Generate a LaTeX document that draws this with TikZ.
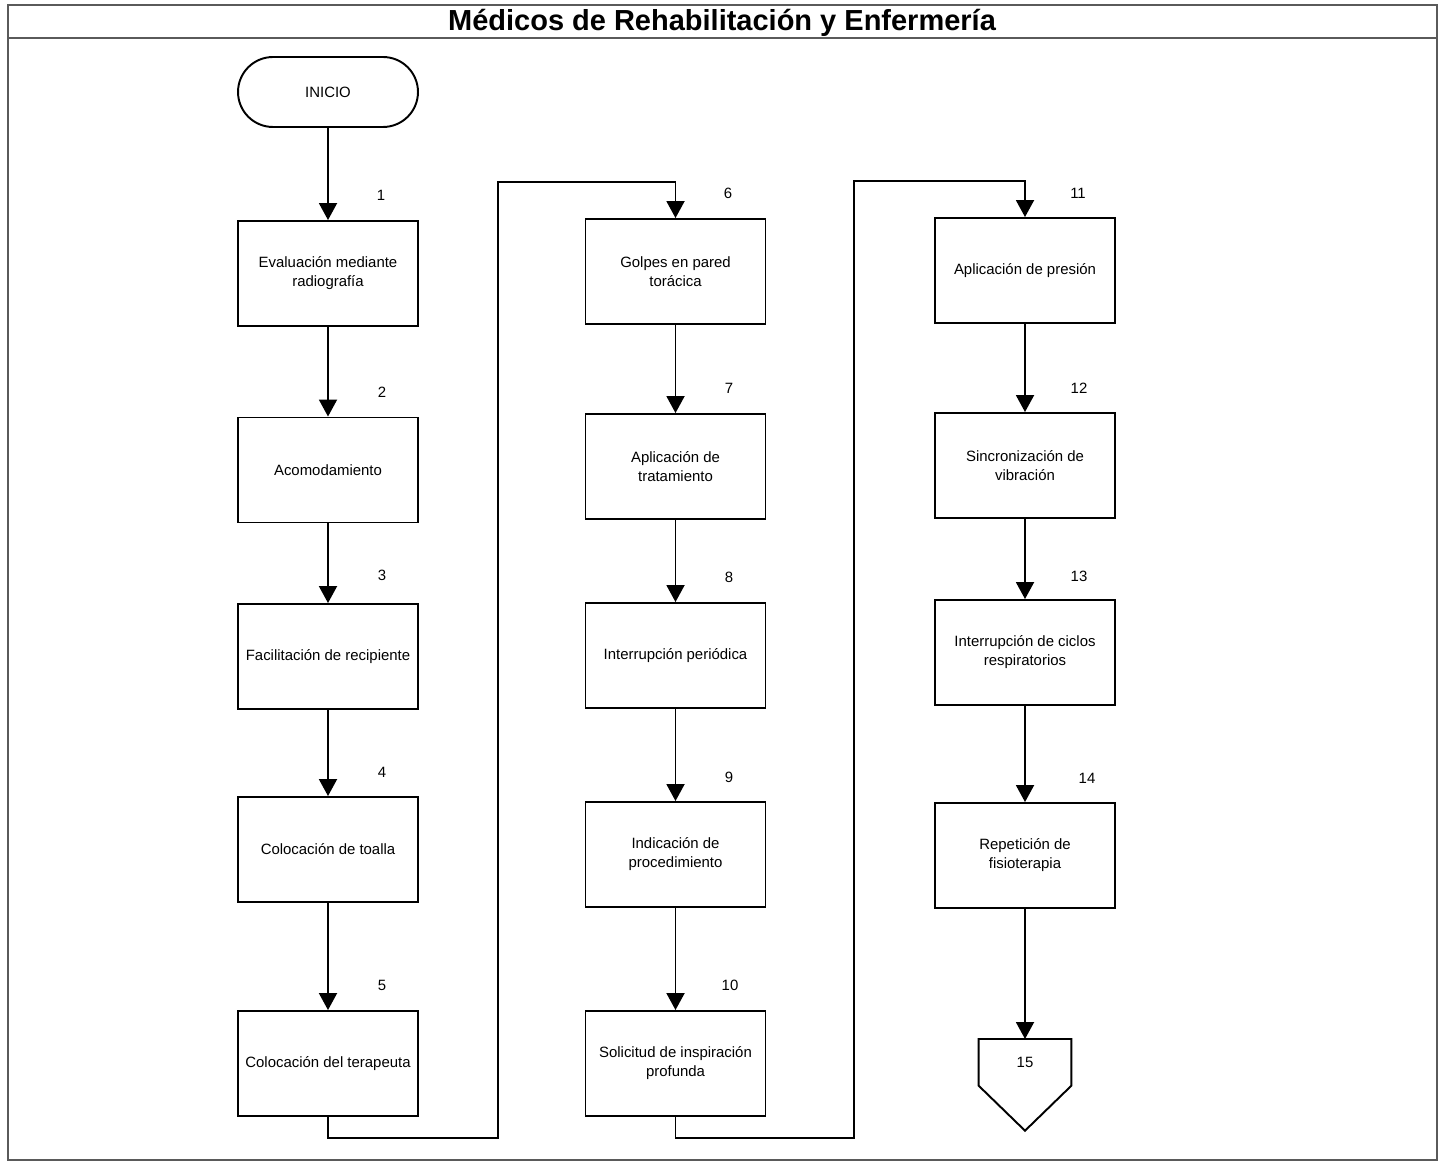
\documentclass[tikz,border=0pt]{standalone}
\usepackage{fontspec}
\setmainfont{Liberation Sans}
\usetikzlibrary{positioning, arrows.meta}
\definecolor{framegray}{RGB}{90,90,90}

\begin{document}
\begin{tikzpicture}[
  x=0.02cm, y=-0.02cm,
  procb/.style={draw, line width=1.1pt, minimum width=3.6cm, minimum height=2.1cm,
                font=\fontsize{8.5}{10.8}\selectfont, align=center},
  termb/.style={draw, line width=1.1pt, rounded corners=0.7cm, minimum width=3.6cm,
                minimum height=1.4cm, font=\fontsize{8.5}{10.8}\selectfont},
  connb/.style={minimum width=1.84cm, minimum height=0.92cm, inner sep=0pt,
                font=\fontsize{8.5}{10.8}\selectfont},
  numl/.style={font=\fontsize{8.5}{10.8}\selectfont},
  arr/.style={-{Triangle[width=0.36cm, length=0.34cm]}, line width=1.1pt},
]
\useasboundingbox (0,0) rectangle (1442,1162);

% Frame and title
\draw[framegray, line width=1.2pt] (8,5) rectangle (1437,1160);
\draw[framegray, line width=1.2pt] (8,38) -- (1437,38);
\node[font=\bfseries\fontsize{16.5}{19}\selectfont] (title) at (722,23)
  {Médicos de Rehabilitación y Enfermería};

% Start
\node[termb] (inicio) at (328,92) {INICIO};

% First column
\node[procb] (b1) at (328,273.5) {Evaluación mediante\\radiografía};
\node[procb] (b2) at (328,470) {Acomodamiento};
\node[procb] (b3) at (328,656.5) {Facilitación de recipiente};
\node[procb] (b4) at (328,849.5) {Colocación de toalla};
\node[procb] (b5) at (328,1063.5) {Colocación del terapeuta};

% Second column
\node[procb] (b6) at (675.5,271.5) {Golpes en pared\\torácica};
\node[procb] (b7) at (675.5,466.5) {Aplicación de\\tratamiento};
\node[procb] (b8) at (675.5,655.5) {Interrupción periódica};
\node[procb] (b9) at (675.5,854.5) {Indicación de\\procedimiento};
\node[procb] (b10) at (675.5,1063.5) {Solicitud de inspiración\\profunda};

% Third column
\node[procb] (b11) at (1025,270.5) {Aplicación de presión};
\node[procb] (b12) at (1025,465.5) {Sincronización de\\vibración};
\node[procb] (b13) at (1025,652.5) {Interrupción de ciclos\\respiratorios};
\node[procb] (b14) at (1025,855.5) {Repetición de\\fisioterapia};

% Off-page connector
\node[connb, anchor=north] (fin) at (1025,1039) {15};
\draw[line width=1.1pt] (fin.south west) -- (fin.north west) -- (fin.north east)
  -- (fin.south east) -- ([yshift=-0.9cm]fin.south) -- cycle;

% Step numbers
\node[numl] (n1) at (381,195) {1};
\node[numl] (n2) at (382,392) {2};
\node[numl] (n3) at (382,575) {3};
\node[numl] (n4) at (382,772) {4};
\node[numl] (n5) at (382,985) {5};
\node[numl] (n6) at (728,193) {6};
\node[numl] (n7) at (729,388) {7};
\node[numl] (n8) at (729,577) {8};
\node[numl] (n9) at (729,777) {9};
\node[numl] (n10) at (730,985) {10};
\node[numl] (n11) at (1078,193) {11};
\node[numl] (n12) at (1079,388) {12};
\node[numl] (n13) at (1079,576) {13};
\node[numl] (n14) at (1087,778) {14};

% Column jumps
\coordinate (j1a) at (498,1138);
\coordinate (j1b) at (498,182);
\coordinate (j2a) at (854,1138);
\coordinate (j2b) at (854,181);

% Arrows
\draw[arr] (inicio) -- (b1);
\draw[arr] (b1) -- (b2);
\draw[arr] (b2) -- (b3);
\draw[arr] (b3) -- (b4);
\draw[arr] (b4) -- (b5);
\draw[arr] (b5.south) |- (j1a) -- (j1b) -| (b6.north);
\draw[arr] (b6) -- (b7);
\draw[arr] (b7) -- (b8);
\draw[arr] (b8) -- (b9);
\draw[arr] (b9) -- (b10);
\draw[arr] (b10.south) |- (j2a) -- (j2b) -| (b11.north);
\draw[arr] (b11) -- (b12);
\draw[arr] (b12) -- (b13);
\draw[arr] (b13) -- (b14);
\draw[arr] (b14) -- (fin);
\end{tikzpicture}
\end{document}
